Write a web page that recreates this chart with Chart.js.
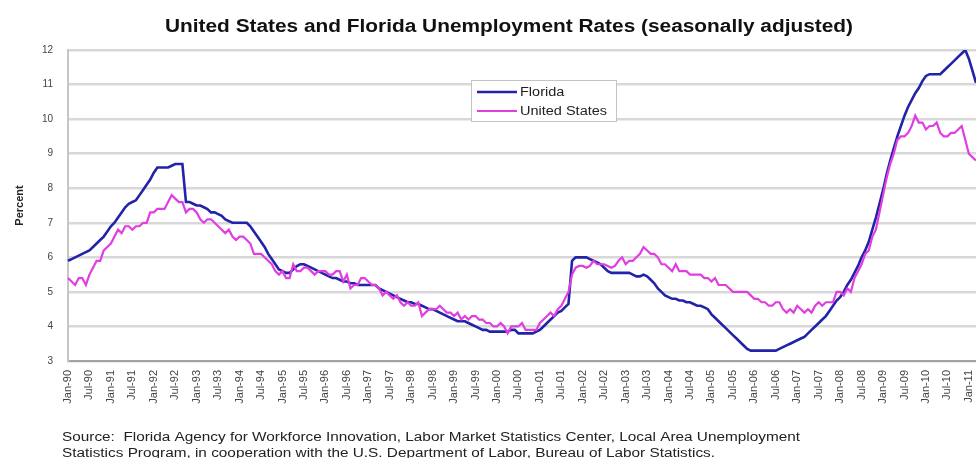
<!DOCTYPE html>
<html lang="en">
<head>
    <meta charset="UTF-8">
    <title>United States and Florida Unemployment Rates</title>
    <script src="https://cdn.jsdelivr.net/npm/chart.js"></script>
    <style>
        html, body { margin: 0; padding: 0; background: #fff; }
        #wrap { width: 976px; height: 458px; }
    </style>
</head>
<body>
<div id="wrap"><canvas id="graph_rates"></canvas></div>
<script>
    const title_text = 'United States and Florida Unemployment Rates (seasonally adjusted)';
    const source_lines = [
        'Source:  Florida Agency for Workforce Innovation, Labor Market Statistics Center, Local Area Unemployment',
        'Statistics Program, in cooperation with the U.S. Department of Labor, Bureau of Labor Statistics.'
    ];
    const y_title = 'Percent';

    const month_names = ['Jan', 'Feb', 'Mar', 'Apr', 'May', 'Jun', 'Jul', 'Aug', 'Sep', 'Oct', 'Nov', 'Dec'];
    const year_codes = ['90', '91', '92', '93', '94', '95', '96', '97', '98', '99', '00',
        '01', '02', '03', '04', '05', '06', '07', '08', '09', '10', '11'];
    const last_month_2011 = 3; // data runs Jan-90 .. Mar-11

    // monthly rates, one row per year
    const florida_rates = [
        5.9, 5.95, 6.0, 6.05, 6.1, 6.15, 6.2, 6.3, 6.4, 6.5, 6.6, 6.75,
        6.9, 7.0, 7.15, 7.3, 7.45, 7.55, 7.6, 7.65, 7.8, 7.95, 8.1, 8.25,
        8.45, 8.6, 8.6, 8.6, 8.6, 8.65, 8.7, 8.7, 8.7, 7.6, 7.6, 7.55,
        7.5, 7.5, 7.45, 7.4, 7.3, 7.3, 7.25, 7.2, 7.1, 7.05, 7.0, 7.0,
        7.0, 7.0, 7.0, 6.9, 6.75, 6.6, 6.45, 6.3, 6.1, 5.95, 5.8, 5.65,
        5.6, 5.55, 5.55, 5.65, 5.75, 5.8, 5.8, 5.75, 5.7, 5.65, 5.6, 5.55,
        5.5, 5.45, 5.4, 5.4, 5.35, 5.3, 5.3, 5.25, 5.25, 5.2, 5.2, 5.2,
        5.2, 5.2, 5.2, 5.1, 5.05, 5.0, 4.95, 4.9, 4.85, 4.8, 4.75, 4.7,
        4.7, 4.65, 4.65, 4.6, 4.55, 4.5, 4.5, 4.45, 4.4, 4.35, 4.3, 4.25,
        4.2, 4.15, 4.15, 4.15, 4.1, 4.05, 4.0, 3.95, 3.9, 3.9, 3.85, 3.85,
        3.85, 3.85, 3.85, 3.85, 3.9, 3.9, 3.8, 3.8, 3.8, 3.8, 3.8, 3.85,
        3.9, 4.0, 4.1, 4.2, 4.3, 4.4, 4.45, 4.55, 4.65, 5.9, 6.0, 6.0,
        6.0, 6.0, 5.95, 5.9, 5.85, 5.8, 5.7, 5.6, 5.55, 5.55, 5.55, 5.55,
        5.55, 5.55, 5.5, 5.45, 5.45, 5.5, 5.45, 5.35, 5.25, 5.1, 5.0, 4.9,
        4.85, 4.8, 4.8, 4.75, 4.75, 4.7, 4.7, 4.65, 4.6, 4.6, 4.55, 4.5,
        4.35, 4.25, 4.15, 4.05, 3.95, 3.85, 3.75, 3.65, 3.55, 3.45, 3.35, 3.3,
        3.3, 3.3, 3.3, 3.3, 3.3, 3.3, 3.3, 3.35, 3.4, 3.45, 3.5, 3.55,
        3.6, 3.65, 3.7, 3.8, 3.9, 4.0, 4.1, 4.2, 4.3, 4.45, 4.6, 4.75,
        4.85, 5.0, 5.2, 5.35, 5.55, 5.75, 6.0, 6.2, 6.45, 6.8, 7.15, 7.55,
        7.95, 8.4, 8.8, 9.15, 9.5, 9.8, 10.1, 10.35, 10.55, 10.75, 10.9, 11.1,
        11.25, 11.3, 11.3, 11.3, 11.3, 11.4, 11.5, 11.6, 11.7, 11.8, 11.9, 12.0,
        11.75, 11.4, 11.05
    ];
    const us_rates = [
        5.4, 5.3, 5.2, 5.4, 5.4, 5.2, 5.5, 5.7, 5.9, 5.9, 6.2, 6.3,
        6.4, 6.6, 6.8, 6.7, 6.9, 6.9, 6.8, 6.9, 6.9, 7.0, 7.0, 7.3,
        7.3, 7.4, 7.4, 7.4, 7.6, 7.8, 7.7, 7.6, 7.6, 7.3, 7.4, 7.4,
        7.3, 7.1, 7.0, 7.1, 7.1, 7.0, 6.9, 6.8, 6.7, 6.8, 6.6, 6.5,
        6.6, 6.6, 6.5, 6.4, 6.1, 6.1, 6.1, 6.0, 5.9, 5.8, 5.6, 5.5,
        5.6, 5.4, 5.4, 5.8, 5.6, 5.6, 5.7, 5.7, 5.6, 5.5, 5.6, 5.6,
        5.6, 5.5, 5.5, 5.6, 5.6, 5.3, 5.5, 5.1, 5.2, 5.2, 5.4, 5.4,
        5.3, 5.2, 5.2, 5.1, 4.9, 5.0, 4.9, 4.8, 4.9, 4.7, 4.6, 4.7,
        4.6, 4.6, 4.7, 4.3, 4.4, 4.5, 4.5, 4.5, 4.6, 4.5, 4.4, 4.4,
        4.3, 4.4, 4.2, 4.3, 4.2, 4.3, 4.3, 4.2, 4.2, 4.1, 4.1, 4.0,
        4.0, 4.1, 4.0, 3.8, 4.0, 4.0, 4.0, 4.1, 3.9, 3.9, 3.9, 3.9,
        4.1, 4.2, 4.3, 4.4, 4.3, 4.5, 4.6, 4.8, 5.0, 5.5, 5.7, 5.75,
        5.75, 5.7, 5.75, 5.9, 5.8, 5.8, 5.8, 5.75, 5.7, 5.75, 5.9, 6.0,
        5.8, 5.9, 5.9, 6.0, 6.1, 6.3, 6.2, 6.1, 6.1, 6.0, 5.8, 5.8,
        5.7, 5.6, 5.8, 5.6, 5.6, 5.6, 5.5, 5.5, 5.5, 5.5, 5.4, 5.4,
        5.3, 5.4, 5.2, 5.2, 5.2, 5.1, 5.0, 5.0, 5.0, 5.0, 5.0, 4.9,
        4.8, 4.8, 4.7, 4.7, 4.6, 4.6, 4.7, 4.7, 4.5, 4.4, 4.5, 4.4,
        4.6, 4.5, 4.4, 4.5, 4.4, 4.6, 4.7, 4.6, 4.7, 4.7, 4.7, 5.0,
        5.0, 4.9, 5.1, 5.0, 5.4, 5.6, 5.8, 6.1, 6.2, 6.6, 6.8, 7.3,
        7.8, 8.3, 8.7, 9.0, 9.4, 9.5, 9.5, 9.6, 9.8, 10.1, 9.9, 9.9,
        9.7, 9.8, 9.8, 9.9, 9.6, 9.5, 9.5, 9.6, 9.6, 9.7, 9.8, 9.4,
        9.0, 8.9, 8.8
    ];

    let months = [];
    year_codes.forEach(function (yy, yi) {
        let count = yi === year_codes.length - 1 ? last_month_2011 : 12;
        for (let m = 0; m < count; m++) {
            months.push(month_names[m] + '-' + yy);
        }
    });

    const text_font = '"Liberation Sans", Arial, sans-serif';

    function drawStretched(ctx, text, x, y, sx) {
        ctx.save();
        ctx.translate(x, y);
        ctx.scale(sx, 1);
        ctx.fillText(text, 0, 0);
        ctx.restore();
    }

    // title, source note and the boxed legend
    const decorations = {
        id: 'decorations',
        afterDraw(chart) {
            const ctx = chart.ctx;
            ctx.save();
            ctx.fillStyle = '#111';
            ctx.textAlign = 'left';
            ctx.textBaseline = 'alphabetic';

            ctx.font = 'bold 18px ' + text_font;
            drawStretched(ctx, title_text, 165, 32, 688 / ctx.measureText(title_text).width);

            ctx.font = '12px ' + text_font;
            ctx.fillStyle = '#222';
            let sx = 738 / ctx.measureText(source_lines[0]).width;
            source_lines.forEach(function (line, i) {
                drawStretched(ctx, line, 62, 441 + i * 16, sx);
            });

            // legend
            ctx.fillStyle = '#fff';
            ctx.fillRect(471, 80, 145, 41);
            ctx.strokeStyle = '#c4c4c4';
            ctx.lineWidth = 1;
            ctx.strokeRect(471.5, 80.5, 145, 41);
            ctx.font = '12.5px ' + text_font;
            ctx.textBaseline = 'middle';
            chart.data.datasets.forEach(function (ds, i) {
                let y = 92 + i * 19;
                ctx.strokeStyle = ds.borderColor;
                ctx.lineWidth = ds.borderWidth;
                ctx.beginPath();
                ctx.moveTo(477, y);
                ctx.lineTo(517, y);
                ctx.stroke();
                ctx.fillStyle = '#222';
                drawStretched(ctx, ds.label, 520, y + 1, 1.16);
            });
            ctx.restore();
        }
    };

    new Chart(document.getElementById('graph_rates'), {
        type: 'line',
        data: {
            labels: months,
            datasets: [
                {
                    label: 'Florida',
                    data: florida_rates,
                    borderColor: '#2323a8',
                    borderWidth: 2.6,
                    pointRadius: 0,
                    fill: false,
                    order: 1,
                },
                {
                    label: 'United States',
                    data: us_rates,
                    borderColor: '#e03ee0',
                    borderWidth: 2.2,
                    pointRadius: 0,
                    fill: false,
                    order: 0,
                },
            ],
        },
        options: {
            responsive: true,
            maintainAspectRatio: false,
            animation: false,
            layout: {
                padding: { top: 50, right: 0, bottom: 37, left: 0 },
            },
            plugins: {
                legend: { display: false },
                title: { display: false },
                tooltip: { enabled: false },
            },
            scales: {
                x: {
                    grid: { display: false, drawTicks: false },
                    border: { color: '#a4a4a4', width: 2 },
                    ticks: {
                        autoSkip: false,
                        minRotation: 90,
                        maxRotation: 90,
                        padding: 9,
                        color: '#444',
                        font: { family: text_font, size: 11 },
                        callback: function (value, index) {
                            return index % 6 === 0 ? this.getLabelForValue(value) : null;
                        },
                    },
                    afterFit: function (scale) {
                        scale.height = 60;
                        scale.paddingLeft = 0;
                        scale.paddingRight = 0;
                    },
                },
                y: {
                    min: 3,
                    max: 12,
                    grid: { color: '#d8d8d8', lineWidth: 2.4, drawTicks: false },
                    border: { color: '#c6c6c6', width: 2 },
                    ticks: {
                        stepSize: 1,
                        padding: 15,
                        color: '#444',
                        font: { family: text_font, size: 10 },
                    },
                    title: {
                        display: true,
                        text: y_title,
                        color: '#222',
                        padding: { top: 13, bottom: 0 },
                        font: { family: text_font, size: 11, weight: 'bold' },
                    },
                    afterFit: function (scale) {
                        scale.width = 68;
                    },
                },
            },
        },
        plugins: [decorations],
    });
</script>
</body>
</html>
